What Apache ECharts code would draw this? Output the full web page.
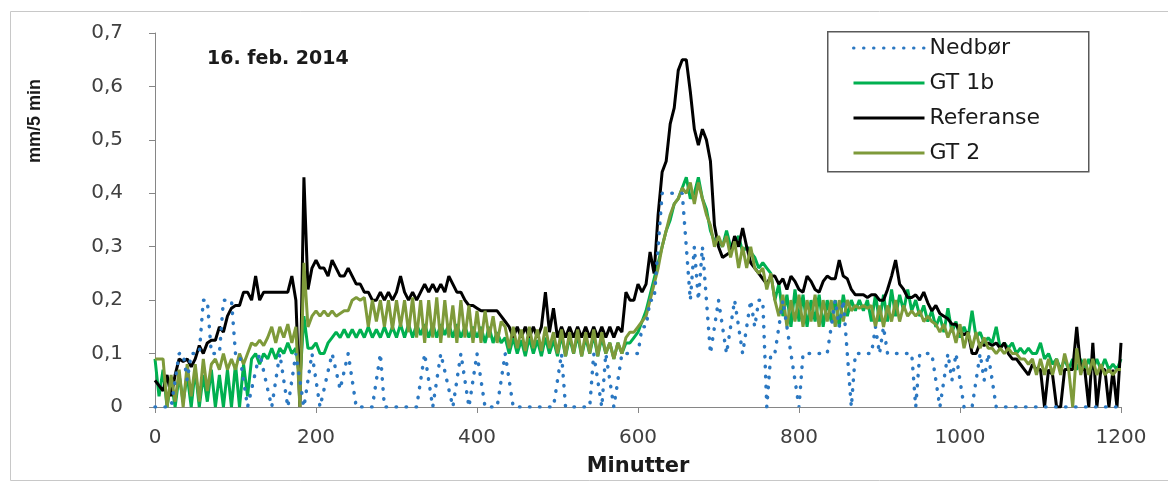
<!DOCTYPE html>
<html>
<head>
<meta charset="utf-8">
<script src="https://cdn.jsdelivr.net/npm/echarts@6/dist/echarts.min.js"></script>
<style>
html,body{margin:0;padding:0;background:#fff;}
#c{width:1168px;height:482px;}
</style>
</head>
<body>
<div id="c"></div>
<script>
// time axis (minutes, 5-minute steps)
const minutes = [];
for (let t = 0; t <= 1200; t += 5) minutes.push(t);

const seriesNames = ['Nedbør', 'GT 1b', 'Referanse', 'GT 2'];
const xTickLabels = ['0', '200', '400', '600', '800', '1000', '1200'];
const yTickLabels = ['0', '0,1', '0,2', '0,3', '0,4', '0,5', '0,6', '0,7'];

// Nedbør (mm/5 min)
const nedbor = [
  0,0,0,0,0,0.05,0.1,0.1,0.05,0.1,
  0.1,0.1,0.2,0.2,0.1,0.1,0.1,0.2,0.2,0.2,
  0.1,0.1,0.05,0,0.033,0.067,0.1,0.067,0.033,0,
  0.05,0.1,0.05,0,0.05,0.1,0.05,0,0.05,0.1,
  0.05,0,0.033,0.067,0.1,0.067,0.033,0.067,0.1,0.05,
  0,0,0,0,0,0.05,0.1,0,0,0,
  0,0,0,0,0,0,0.05,0.1,0.05,0,
  0.05,0.1,0.067,0.033,0,0.05,0.1,0.05,0,0.05,
  0.1,0.05,0,0,0,0,0.05,0.1,0.05,0,
  0,0,0,0,0,0,0,0,0,0,
  0.05,0.1,0,0,0,0,0,0,0,0.1,
  0.05,0,0.1,0.05,0,0.05,0.1,0.1,0.1,0.1,
  0.1,0.15,0.15,0.2,0.2,0.3,0.4,0.4,0.4,0.4,
  0.4,0.4,0.3,0.2,0.3,0.2,0.3,0.2,0.1,0.15,
  0.2,0.15,0.1,0.15,0.2,0.15,0.1,0.15,0.2,0.15,
  0.2,0.2,0,0.1,0.1,0.15,0.2,0.15,0.1,0.05,
  0,0.1,0.1,0.1,0.1,0.1,0.1,0.1,0.15,0.2,
  0.15,0.2,0.1,0,0.1,0.1,0.1,0.1,0.1,0.15,
  0.1,0.15,0.1,0.1,0.1,0.1,0.1,0.1,0.1,0,
  0.1,0.1,0.1,0.1,0.05,0,0.05,0.1,0.05,0.1,
  0.05,0,0,0,0.05,0.1,0.05,0.1,0.05,0,
  0,0,0,0,0,0,0,0,0,0,
  0,0,0,0,0,0,0,0,0,0,
  0,0,0,0,0,0,0,0,0,0,
  0
];

// GT 1b
const gt1b = [
  0.09,0.02,0.07,0,0.05,0,0.06,0.01,0.06,0,
  0.07,0,0.06,0.01,0.07,0,0.06,0,0.07,0,
  0.08,0,0.08,0.02,0.09,0.1,0.08,0.1,0.09,0.11,
  0.09,0.11,0.1,0.12,0.1,0.11,0.05,0.17,0.11,0.11,
  0.12,0.1,0.1,0.12,0.13,0.14,0.13,0.145,0.13,0.145,
  0.13,0.145,0.13,0.15,0.13,0.145,0.13,0.15,0.13,0.15,
  0.13,0.155,0.13,0.155,0.13,0.155,0.135,0.155,0.13,0.155,
  0.13,0.155,0.135,0.155,0.13,0.155,0.13,0.15,0.13,0.15,
  0.13,0.15,0.12,0.15,0.12,0.14,0.12,0.13,0.1,0.13,
  0.1,0.125,0.095,0.13,0.1,0.125,0.095,0.13,0.1,0.125,
  0.095,0.135,0.095,0.13,0.1,0.135,0.095,0.13,0.1,0.135,
  0.095,0.13,0.1,0.12,0.09,0.12,0.1,0.12,0.12,0.13,
  0.14,0.16,0.18,0.21,0.24,0.27,0.3,0.33,0.35,0.38,
  0.39,0.41,0.43,0.39,0.4,0.43,0.39,0.37,0.33,0.31,
  0.31,0.3,0.33,0.3,0.31,0.32,0.29,0.3,0.29,0.28,
  0.26,0.27,0.26,0.25,0.2,0.23,0.17,0.21,0.15,0.22,
  0.16,0.21,0.15,0.2,0.16,0.21,0.15,0.2,0.16,0.2,
  0.15,0.21,0.17,0.2,0.18,0.2,0.18,0.2,0.16,0.21,
  0.16,0.21,0.16,0.22,0.17,0.21,0.18,0.22,0.18,0.2,
  0.17,0.19,0.16,0.18,0.15,0.17,0.14,0.185,0.14,0.16,
  0.13,0.15,0.13,0.18,0.13,0.14,0.12,0.13,0.12,0.15,
  0.11,0.12,0.11,0.12,0.1,0.11,0.1,0.11,0.1,0.1,
  0.12,0.09,0.1,0.08,0.09,0.07,0.09,0.07,0.09,0.07,
  0.09,0.07,0.09,0.07,0.09,0.07,0.09,0.07,0.08,0.07,
  0.09
];

// Referanse
const referanse = [
  0.05,0.04,0.03,0.06,0.02,0.06,0.09,0.085,0.09,0.075,
  0.09,0.115,0.1,0.12,0.125,0.125,0.15,0.14,0.17,0.185,
  0.19,0.19,0.215,0.215,0.2,0.245,0.2,0.215,0.215,0.215,
  0.215,0.215,0.215,0.215,0.245,0.2,0,0.43,0.22,0.26,
  0.275,0.26,0.26,0.245,0.275,0.26,0.245,0.245,0.26,0.245,
  0.23,0.23,0.215,0.215,0.2,0.2,0.215,0.2,0.215,0.2,
  0.215,0.245,0.215,0.2,0.215,0.2,0.215,0.23,0.215,0.23,
  0.215,0.23,0.215,0.245,0.23,0.215,0.215,0.2,0.19,0.19,
  0.185,0.18,0.18,0.18,0.18,0.18,0.17,0.16,0.15,0.13,
  0.15,0.13,0.15,0.13,0.15,0.13,0.15,0.215,0.14,0.185,
  0.13,0.15,0.13,0.15,0.13,0.15,0.13,0.15,0.13,0.15,
  0.13,0.15,0.13,0.15,0.13,0.15,0.14,0.215,0.2,0.2,
  0.23,0.215,0.23,0.29,0.25,0.36,0.44,0.46,0.53,0.56,
  0.63,0.65,0.65,0.59,0.52,0.49,0.52,0.5,0.46,0.34,
  0.3,0.28,0.285,0.29,0.32,0.3,0.335,0.3,0.27,0.26,
  0.25,0.24,0.23,0.245,0.245,0.23,0.24,0.22,0.245,0.235,
  0.22,0.215,0.245,0.235,0.22,0.215,0.235,0.245,0.24,0.24,
  0.275,0.245,0.24,0.22,0.21,0.21,0.21,0.205,0.21,0.21,
  0.2,0.2,0.22,0.245,0.275,0.23,0.22,0.205,0.205,0.21,
  0.2,0.215,0.195,0.18,0.19,0.175,0.17,0.165,0.155,0.155,
  0.14,0.135,0.14,0.1,0.1,0.12,0.115,0.12,0.115,0.12,
  0.11,0.12,0.1,0.09,0.09,0.08,0.07,0.06,0.08,0.07,
  0.07,0,0.07,0.06,0,0,0.07,0.07,0.07,0.15,
  0.07,0.07,0,0.12,0,0.07,0.07,0,0.07,0,
  0.12
];

// GT 2
const gt2 = [
  0.09,0.09,0.09,0,0.06,0.01,0.07,0,0.08,0.02,
  0.08,0.01,0.09,0.03,0.08,0.09,0.07,0.1,0.07,0.09,
  0.07,0.1,0.08,0.1,0.12,0.115,0.125,0.115,0.13,0.15,
  0.12,0.15,0.13,0.155,0.12,0.15,0,0.27,0.15,0.17,
  0.18,0.17,0.18,0.17,0.18,0.17,0.175,0.18,0.18,0.2,
  0.205,0.2,0.205,0.15,0.2,0.16,0.2,0.15,0.2,0.145,
  0.2,0.15,0.2,0.14,0.205,0.13,0.2,0.12,0.2,0.13,
  0.205,0.12,0.2,0.13,0.19,0.12,0.2,0.13,0.19,0.12,
  0.18,0.12,0.18,0.13,0.17,0.12,0.16,0.15,0.11,0.15,
  0.11,0.145,0.105,0.15,0.11,0.145,0.105,0.15,0.11,0.14,
  0.1,0.145,0.095,0.14,0.1,0.145,0.095,0.14,0.1,0.145,
  0.095,0.14,0.1,0.12,0.09,0.12,0.1,0.13,0.14,0.14,
  0.15,0.16,0.17,0.2,0.23,0.26,0.3,0.33,0.36,0.38,
  0.39,0.41,0.4,0.42,0.38,0.42,0.39,0.36,0.34,0.3,
  0.32,0.3,0.32,0.28,0.31,0.26,0.3,0.26,0.3,0.26,
  0.25,0.26,0.22,0.25,0.2,0.17,0.21,0.15,0.2,0.16,
  0.21,0.15,0.2,0.16,0.21,0.15,0.2,0.16,0.2,0.15,
  0.2,0.16,0.2,0.18,0.19,0.185,0.19,0.185,0.19,0.15,
  0.19,0.15,0.19,0.16,0.2,0.16,0.19,0.17,0.18,0.17,
  0.18,0.16,0.17,0.16,0.155,0.14,0.155,0.13,0.15,0.12,
  0.155,0.11,0.14,0.11,0.14,0.11,0.13,0.11,0.11,0.1,
  0.11,0.1,0.11,0.1,0.1,0.09,0.09,0.08,0.09,0.06,
  0.09,0.06,0.09,0.06,0.09,0.06,0.1,0.07,0,0.11,
  0.06,0.09,0.06,0.09,0.06,0.08,0.06,0.07,0.06,0.07,
  0.07
];

const FONT = 'DejaVu Sans';
const TEXT = '#1a1a1a';
const AXIS = '#868686';
const pairs = arr => arr.map((v, i) => [minutes[i], v]);

const chart = echarts.init(document.getElementById('c'), null, {renderer: 'canvas'});
chart.setOption({
  animation: false,
  backgroundColor: '#ffffff',
  grid: {left: 155, right: 47, top: 33, bottom: 75},
  title: {
    text: '16. feb. 2014', left: 207, top: 50, padding: 0,
    textStyle: {fontFamily: FONT, fontSize: 19, fontWeight: 'bold', color: TEXT}
  },
  legend: {
    data: seriesNames, orient: 'vertical', left: 852, top: 36, padding: 0,
    itemWidth: 71, itemHeight: 24, itemGap: 11,
    itemStyle: {opacity: 0},
    lineStyle: {width: 3},
    textStyle: {fontFamily: FONT, fontSize: 22, color: TEXT, lineHeight: 24}
  },
  xAxis: {
    type: 'value', min: 0, max: 1200, interval: 200,
    name: 'Minutter', nameLocation: 'middle', nameGap: 49,
    nameTextStyle: {fontFamily: FONT, fontSize: 21, fontWeight: 'bold', color: TEXT},
    axisLine: {lineStyle: {color: AXIS, width: 1}},
    axisTick: {length: 6, lineStyle: {color: AXIS}},
    axisLabel: {margin: 21, fontFamily: FONT, fontSize: 20, color: '#404040',
      formatter: v => xTickLabels[Math.round(v / 200)]},
    splitLine: {show: false}
  },
  yAxis: {
    type: 'value', min: 0, max: 0.7, interval: 0.1,
    axisLine: {show: true, lineStyle: {color: AXIS, width: 1}},
    axisTick: {show: true, length: 6, lineStyle: {color: AXIS}},
    axisLabel: {margin: 32, fontFamily: FONT, fontSize: 20, color: '#404040',
      formatter: v => yTickLabels[Math.round(v * 10)]},
    splitLine: {show: false}
  },
  graphic: [
    {type: 'rect', left: 8, top: 9, z: -10, silent: true,
     shape: {width: 1175, height: 469}, style: {fill: 'none', stroke: '#c8c8c8', lineWidth: 1}},
    {type: 'rect', left: 827, top: 31, z: 0, silent: true,
     shape: {width: 261, height: 140}, style: {fill: '#ffffff', stroke: '#595959', lineWidth: 1.5}},
    {type: 'text', x: 35, y: 121, rotation: Math.PI / 2, silent: true,
     style: {text: 'mm/5 min', fontFamily: 'Liberation Sans', fontSize: 18, fontWeight: 'bold',
       fill: TEXT, align: 'center', verticalAlign: 'middle'}}
  ],
  series: [
    {name: 'Nedbør', type: 'line', data: pairs(nedbor), symbol: 'none', z: 6,
     lineStyle: {color: '#2B78C2', width: 3.5, type: [0.5, 9.5], cap: 'round'},
     itemStyle: {color: '#2B78C2'}},
    {name: 'GT 1b', type: 'line', data: pairs(gt1b), symbol: 'none', z: 3,
     lineStyle: {color: '#00B050', width: 3}, itemStyle: {color: '#00B050'}},
    {name: 'Referanse', type: 'line', data: pairs(referanse), symbol: 'none', z: 4,
     lineStyle: {color: '#000000', width: 3}, itemStyle: {color: '#000000'}},
    {name: 'GT 2', type: 'line', data: pairs(gt2), symbol: 'none', z: 5,
     lineStyle: {color: '#7E9A3A', width: 3}, itemStyle: {color: '#7E9A3A'}}
  ]
});
</script>
</body>
</html>
